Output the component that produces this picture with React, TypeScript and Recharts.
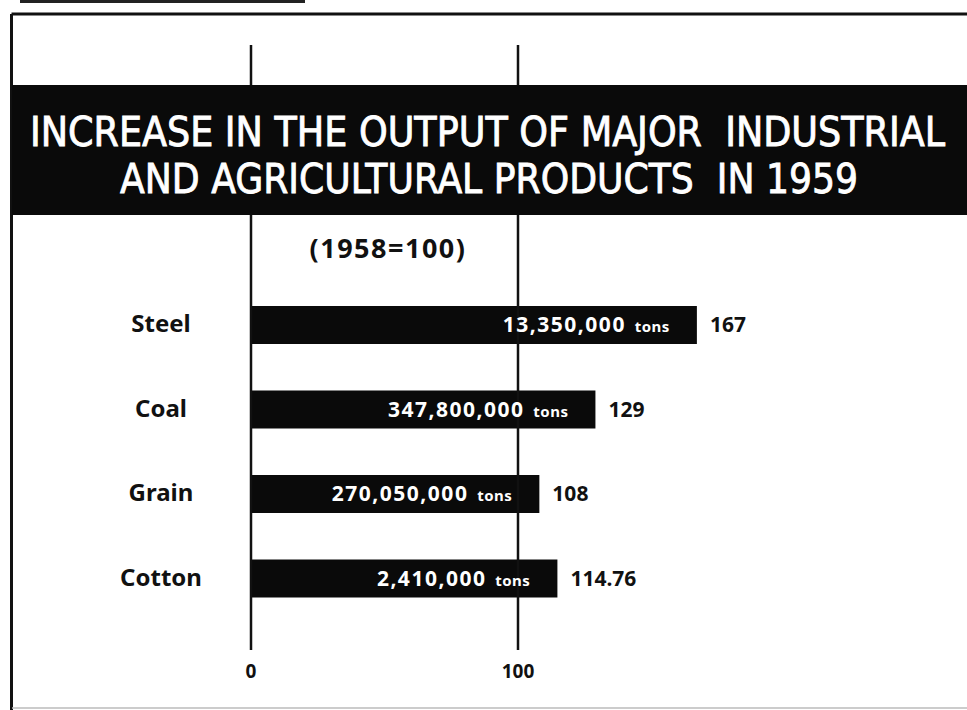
import React from 'react';
import { BarChart, Bar, XAxis, YAxis, ReferenceLine, LabelList } from 'recharts';

const categories = ['Steel', 'Coal', 'Grain', 'Cotton'];
const indexValues = [167, 129, 108, 114.76];
const indexLabels = ['167', '129', '108', '114.76'];
const outputLabels = ['13,350,000', '347,800,000', '270,050,000', '2,410,000'];
const axisTicks = [0, 100];

const titleLines = ['INCREASE IN THE OUTPUT OF MAJOR  INDUSTRIAL', 'AND AGRICULTURAL PRODUCTS  IN 1959'];
const subtitle = '(1958=100)';

const data = categories.map((name, i) => ({
  name,
  value: indexValues[i],
  label: indexLabels[i],
  output: outputLabels[i],
}));

const font = '"Noto Sans", "DejaVu Sans", sans-serif';

const CategoryTick = (props: any) => {
  const { x, y, payload } = props;
  return (
    <text x={x - 82} y={y} dy={7} textAnchor="middle" fontFamily={font} fontWeight={700} fontSize={24} fill="#111">
      {payload.value}
    </text>
  );
};

const OutputLabel = (props: any) => {
  const { x, y, width, height, value } = props;
  return (
    <text
      x={x + width - 27}
      y={y + height / 2}
      dy={7}
      textAnchor="end"
      fontFamily={font}
      fontWeight={700}
      fill="#fff"
      style={{ whiteSpace: 'pre' }}
    >
      <tspan fontSize={21} letterSpacing={1.5}>{value}</tspan>
      <tspan fontSize={15} letterSpacing={0.5}>{'  tons'}</tspan>
    </text>
  );
};

const App: React.FC = () => {
  return (
    <div style={{ position: 'fixed', top: 0, left: 0, width: 967, height: 710, background: '#fff' }}>
      <BarChart
        width={967}
        height={710}
        data={data}
        layout="vertical"
        margin={{ top: 45, right: 182, left: 0, bottom: 20 }}
      >
        <XAxis
          type="number"
          domain={[0, 200]}
          ticks={axisTicks}
          axisLine={false}
          tickLine={false}
          tickSize={0}
          tickMargin={15}
          height={40}
          tick={{ fill: '#111', fontSize: 19, fontWeight: 700, fontFamily: font }}
        />
        <YAxis
          type="category"
          dataKey="name"
          width={251}
          axisLine={false}
          tickLine={false}
          padding={{ top: 238, bottom: 29 }}
          tick={<CategoryTick />}
        />
        <ReferenceLine x={0} stroke="#111" strokeWidth={2.5} />
        <ReferenceLine x={100} stroke="#111" strokeWidth={2.5} />
        <Bar dataKey="value" fill="#0a0a0a" barSize={38} isAnimationActive={false}>
          <LabelList dataKey="output" content={<OutputLabel />} />
          <LabelList
            dataKey="label"
            position="right"
            offset={13}
            fill="#111"
            fontSize={21}
            fontWeight={700}
            fontFamily={font}
          />
        </Bar>
      </BarChart>
      <svg
        width={967}
        height={710}
        style={{ position: 'absolute', top: 0, left: 0, pointerEvents: 'none' }}
      >
        <rect x={20} y={0} width={285} height={3} fill="#222" />
        <line x1={11.5} y1={14} x2={967} y2={14} stroke="#111" strokeWidth={3} />
        <line x1={11.5} y1={14} x2={11.5} y2={710} stroke="#111" strokeWidth={3} />
        <line x1={12} y1={708} x2={967} y2={708} stroke="#bbb" strokeWidth={1.5} />
        <rect x={12} y={85} width={955} height={130} fill="#0a0a0a" />
        <text
          x={30}
          y={146}
          textLength={915}
          lengthAdjust="spacingAndGlyphs"
          fontFamily='"DejaVu Sans Condensed", "DejaVu Sans", sans-serif'
          fontSize={40}
          fill="#fff"
          stroke="#fff"
          strokeWidth={0.8}
          style={{ whiteSpace: 'pre' }}
        >
          {titleLines[0]}
        </text>
        <text
          x={120}
          y={193}
          textLength={738}
          lengthAdjust="spacingAndGlyphs"
          fontFamily='"DejaVu Sans Condensed", "DejaVu Sans", sans-serif'
          fontSize={40}
          fill="#fff"
          stroke="#fff"
          strokeWidth={0.8}
          style={{ whiteSpace: 'pre' }}
        >
          {titleLines[1]}
        </text>
        <text
          x={388}
          y={258}
          textAnchor="middle"
          fontFamily={font}
          fontWeight={700}
          fontSize={27}
          letterSpacing={1.5}
          fill="#111"
        >
          {subtitle}
        </text>
      </svg>
    </div>
  );
};

export default App;
